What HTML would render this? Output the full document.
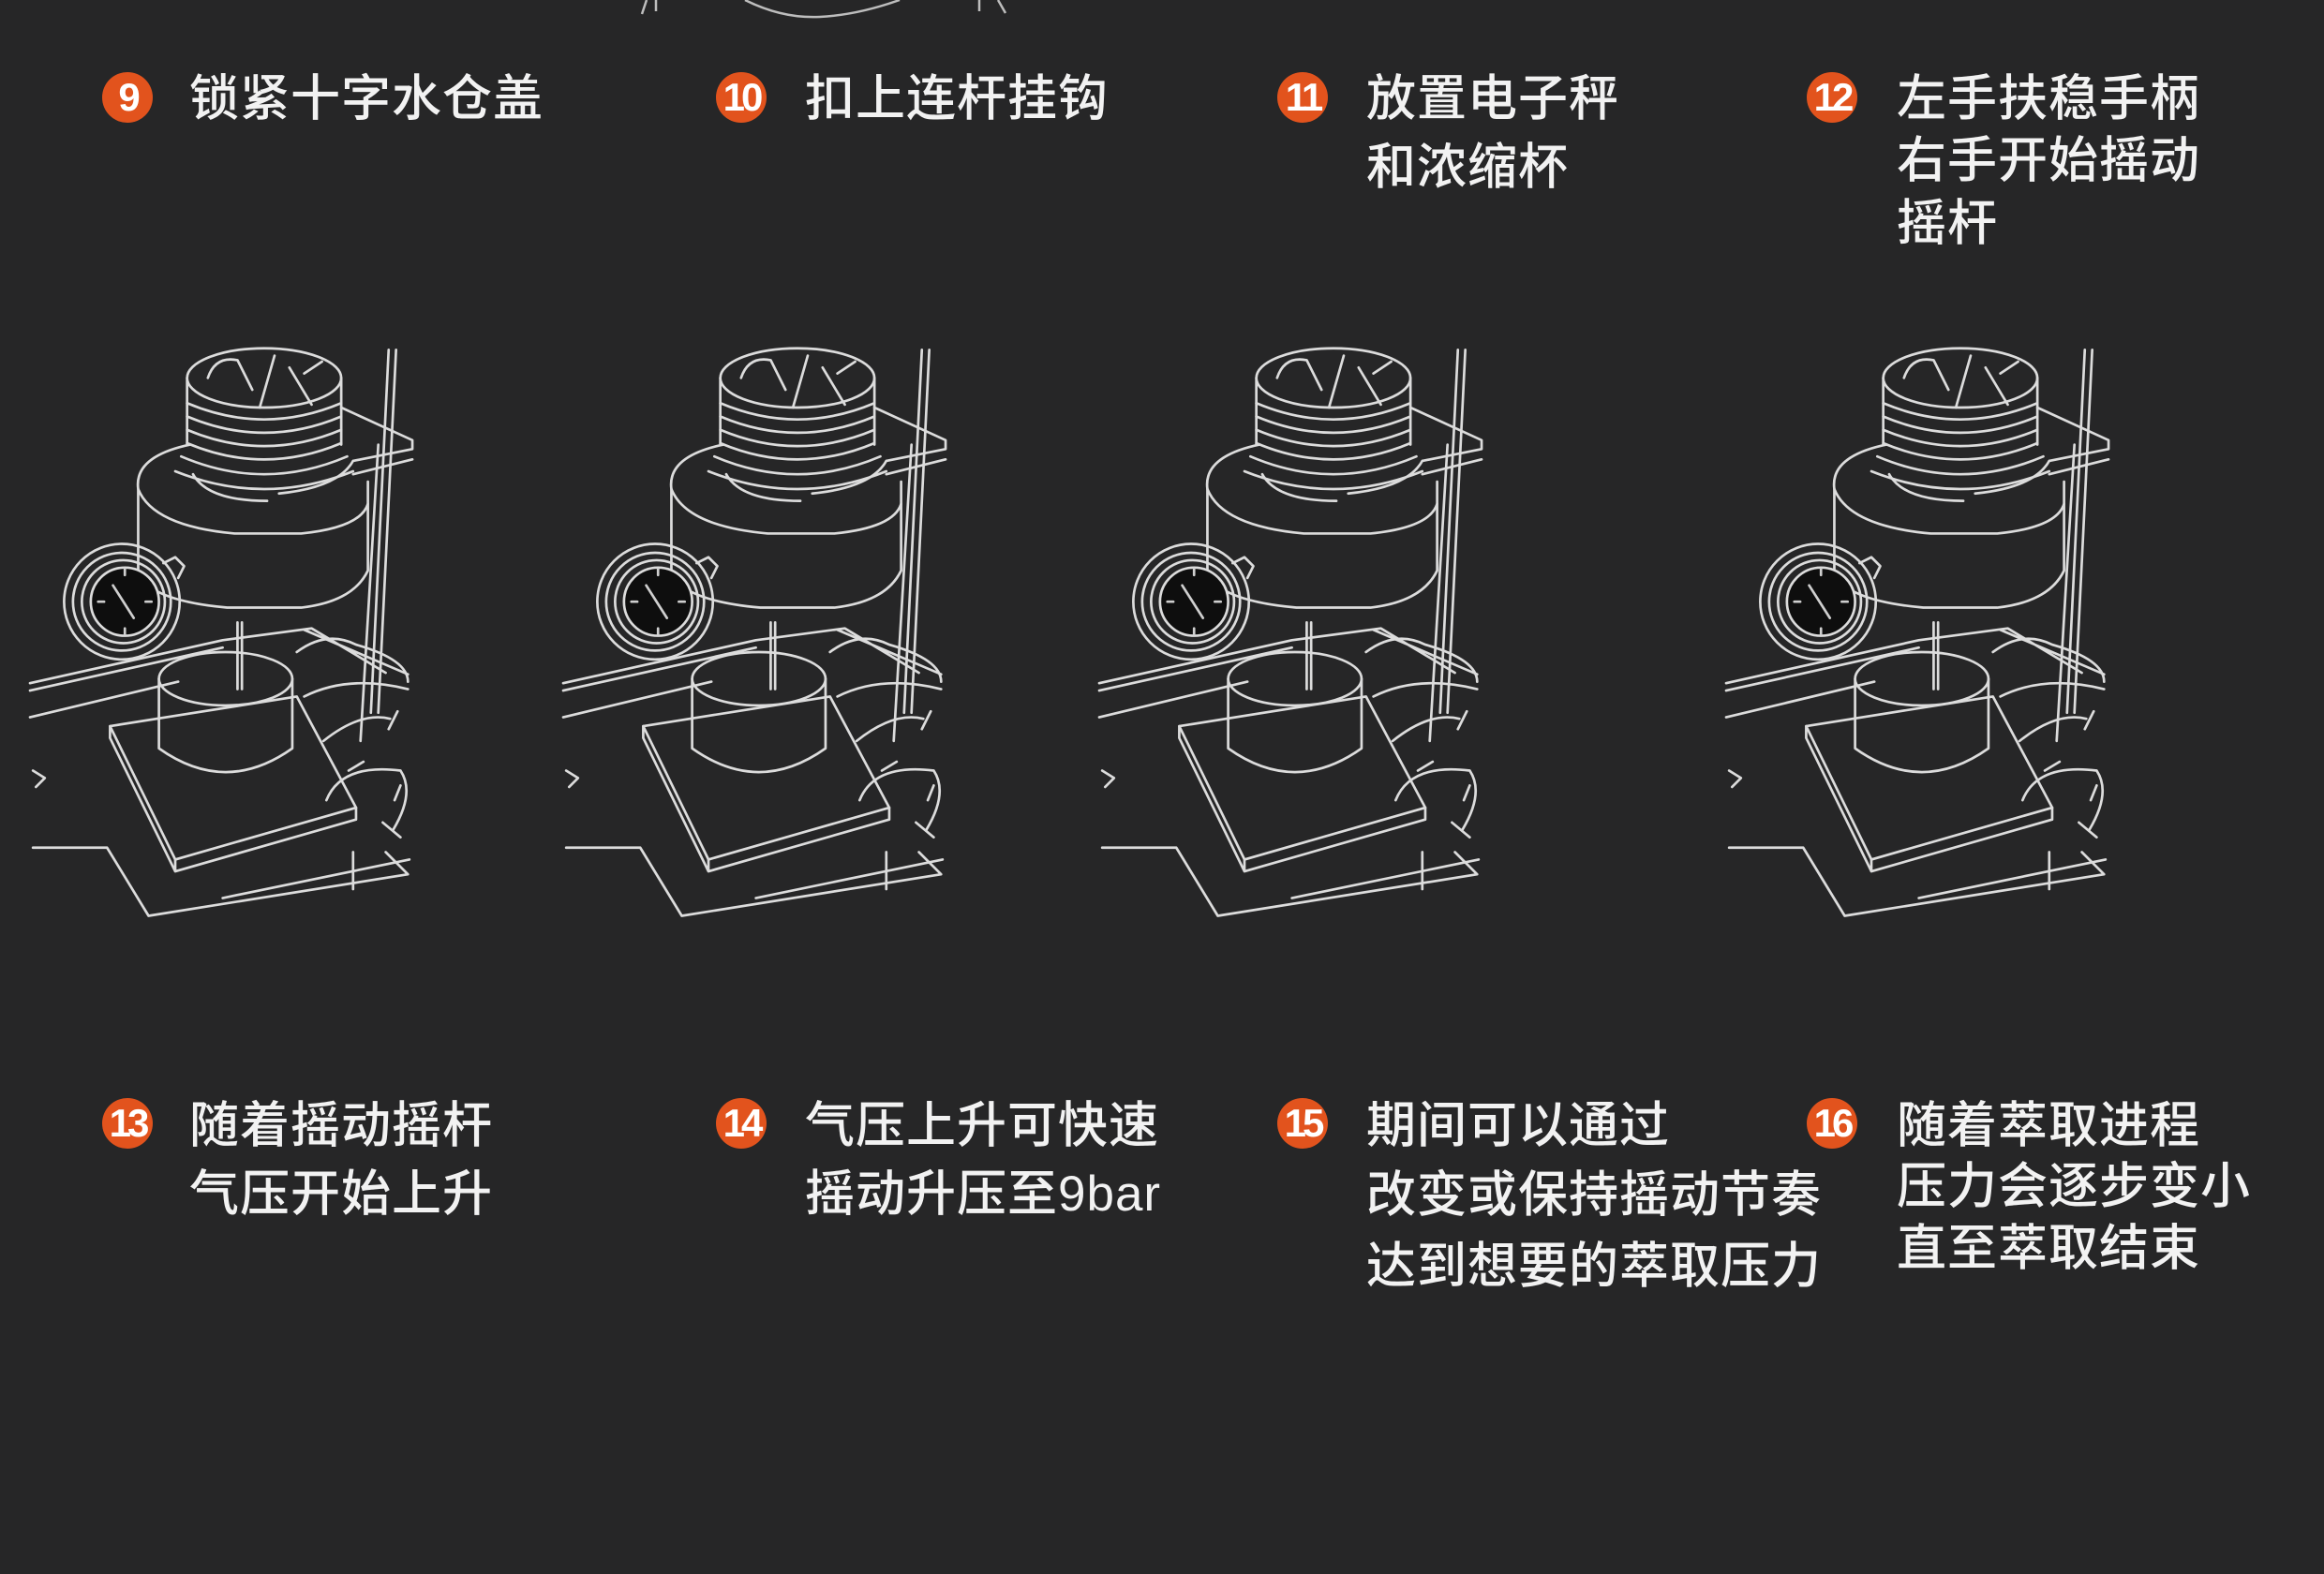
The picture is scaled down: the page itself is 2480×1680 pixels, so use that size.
<!DOCTYPE html>
<html><head><meta charset="utf-8"><style>
html,body{margin:0;padding:0}
body{width:2480px;height:1680px;background:#262627;position:relative;overflow:hidden;font-family:"Liberation Sans","Noto Sans CJK SC",sans-serif}
.t{position:absolute;color:#f2f2f2;font-size:53px;line-height:60px;height:60px;white-space:nowrap;font-weight:500;letter-spacing:1px}
.b{position:absolute;width:54px;height:54px;border-radius:50%;background:#e2531d;color:#fff;font-size:42px;line-height:54px;text-align:center;font-weight:bold;letter-spacing:-4px;font-family:"Liberation Sans",sans-serif}
svg{position:absolute;left:0;top:0}
</style></head><body>
<svg width="2480" height="1680" viewBox="0 0 2480 1680">
<defs>
<g id="m" fill="none" stroke="#dcdcdc" stroke-width="1.7" stroke-linejoin="round" stroke-linecap="round">
<ellipse cx="178" cy="255" rx="52" ry="20"/>
<path d="M126 255 V300 M230 255 V300"/>
<path d="M140 255 q5-15 20-12 l10 20 M185 240 l-10 35 M195 248 l15 25 M205 252 l12-8"/>
<path d="M126 272 q52 22 104 0 M126 281 q52 22 104 0 M126 290 q52 22 104 0 M126 299 q52 22 104 0 M122 308 q56 24 112 0 M118 318 q60 24 120 0"/>
<path d="M128 300 q-38 8 -35 30 v55 q5 20 60 25 h50 q35 -4 45 -25 v-60"/>
<path d="M93 330 q10 25 65 30 h45 q40 -4 45 -20"/>
<path d="M130 320 q10 18 50 18"/>
<path d="M230 275 l48 22 v6 l-40 8 M238 311 q-10 18 -50 22 M238 320 l40 -10"/>
<path d="M262 236 l-12 245 M267 236 l-12 245 M255 300 l-12 200"/>
<circle cx="82" cy="406" r="39"/>
<circle cx="82" cy="406" r="33"/>
<circle cx="83" cy="406" r="28"/>
<circle cx="84" cy="406" r="23" fill="#0e0e0e"/>
<path d="M76 395 l14 22 M84 384 v4 M102 406 h-4 M66 406 h4 M84 428 v-4" stroke="#cfcfcf"/>
<path d="M110 380 l8 -4 l6 6 l-4 8"/>
<path d="M20 461 L150 432 M20 466 L150 437 M20 484 L120 460 M150 432 l60 -8 l50 30 M205 425 l70 30"/>
<ellipse cx="152" cy="458" rx="45" ry="18"/>
<path d="M107 458 V505 q45 32 90 0 V458"/>
<path d="M160 420 v45 M163 420 v45"/>
<path d="M74 490 L200 470 L240 545 L118 580 Z"/>
<path d="M74 490 l0 8 L118 588 L240 553 v-8 M118 580 v8"/>
<path d="M200 440 q20 -15 40 -5 q35 10 35 25 M205 470 q30 -15 70 -5 M218 500 q25 -20 45 -15 M220 540 q10 -25 50 -20 q10 15 -5 40 M235 520 l10 -6 M258 555 l12 10 M268 480 l-6 12 M270 530 l-4 10"/>
<path d="M22 572 H72 L100 618 L275 590 L260 575 M150 606 L276 580 M238 575 V600"/>
<path d="M22 520 l8 5 l-6 6"/>
</g>
</defs>
<g fill="none" stroke="#bdbdbd" stroke-width="2.5">
<path d="M795 0 q40 20 80 18 q40 -2 85 -18"/>
<path d="M690 0 l-5 15 M700 0 v12 M1045 0 v12 M1065 0 l8 14"/>
</g>
<use href="#m" transform="translate(32,367) scale(1.5816) translate(-20,-232)"/>
<use href="#m" transform="translate(601,367) scale(1.5816) translate(-20,-232)"/>
<use href="#m" transform="translate(1173,367) scale(1.5816) translate(-20,-232)"/>
<use href="#m" transform="translate(1842,367) scale(1.5816) translate(-20,-232)"/>
</svg>

<div class="b" style="left:109px;top:77px">9</div>
<div class="b" style="left:764px;top:77px">10</div>
<div class="b" style="left:1363px;top:77px">11</div>
<div class="b" style="left:1928px;top:77px">12</div>
<div class="b" style="left:109px;top:1172px">13</div>
<div class="b" style="left:764px;top:1172px">14</div>
<div class="b" style="left:1363px;top:1172px">15</div>
<div class="b" style="left:1928px;top:1172px">16</div>

<div class="t" style="left:202px;top:76px">锁紧十字水仓盖</div>
<div class="t" style="left:859px;top:76px">扣上连杆挂钩</div>
<div class="t" style="left:1458px;top:76px">放置电子秤</div>
<div class="t" style="left:1458px;top:149px">和浓缩杯</div>
<div class="t" style="left:2024px;top:76px">左手扶稳手柄</div>
<div class="t" style="left:2024px;top:142px">右手开始摇动</div>
<div class="t" style="left:2024px;top:209px">摇杆</div>

<div class="t" style="left:202px;top:1172px">随着摇动摇杆</div>
<div class="t" style="left:202px;top:1245px">气压开始上升</div>
<div class="t" style="left:859px;top:1172px">气压上升可快速</div>
<div class="t" style="left:859px;top:1245px">摇动升压至9bar</div>
<div class="t" style="left:1458px;top:1172px">期间可以通过</div>
<div class="t" style="left:1458px;top:1246px">改变或保持摇动节奏</div>
<div class="t" style="left:1458px;top:1322px">达到想要的萃取压力</div>
<div class="t" style="left:2024px;top:1172px">随着萃取进程</div>
<div class="t" style="left:2024px;top:1237px">压力会逐步变小</div>
<div class="t" style="left:2024px;top:1303px">直至萃取结束</div>
</body></html>
